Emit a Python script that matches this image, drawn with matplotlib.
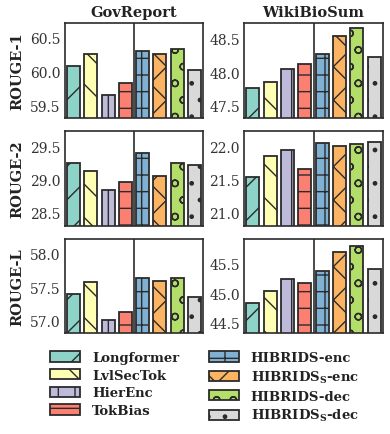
import matplotlib
matplotlib.use("Agg")
import matplotlib.pyplot as plt
from matplotlib.patches import Patch

plt.rcParams['font.family'] = ['DejaVu Serif']
plt.rcParams['mathtext.fontset'] = 'dejavuserif'
plt.rcParams['hatch.linewidth'] = 1.0
plt.rcParams['hatch.color'] = '#2b2b2b'

methods = ['Longformer', 'LvlSecTok', 'HierEnc', 'TokBias',
           'HIBRIDS-enc', r'HIBRIDS$_{\mathbf{S}}$-enc', 'HIBRIDS-dec', r'HIBRIDS$_{\mathbf{S}}$-dec']
colors = ['#8dd3c7', '#ffffb3', '#bebada', '#fb8072', '#80b1d3', '#fdb462', '#b3de69', '#d9d9d9']
hatches = ['/', '\\', '|', '-', '+', 'x', 'o', '.']

datasets = ['GovReport', 'WikiBioSum']
metrics = ['ROUGE-1', 'ROUGE-2', 'ROUGE-L']

gov_r1 = [60.09, 60.26, 59.66, 59.83, 60.31, 60.27, 60.33, 60.03]
gov_r2 = [29.25, 29.12, 28.83, 28.95, 29.40, 29.05, 29.25, 29.22]
gov_rl = [57.40, 57.57, 57.01, 57.13, 57.64, 57.59, 57.64, 57.35]
wiki_r1 = [47.77, 47.86, 48.04, 48.12, 48.27, 48.54, 48.65, 48.23]
wiki_r2 = [21.53, 21.85, 21.94, 21.66, 22.05, 22.00, 22.03, 22.06]
wiki_rl = [44.84, 45.03, 45.24, 45.17, 45.37, 45.69, 45.80, 45.41]

gov_ticks = [[59.5, 60.0, 60.5], [28.5, 29.0, 29.5], [57.0, 57.5, 58.0]]
wiki_ticks = [[47.5, 48.0, 48.5], [21.0, 21.5, 22.0], [44.5, 45.0, 45.5]]
gov_lims = [(59.32, 60.72), (28.29, 29.73), (56.82, 58.21)]
wiki_lims = [(47.32, 48.73), (20.79, 22.23), (44.33, 45.91)]

values = {('GovReport', 0): gov_r1, ('GovReport', 1): gov_r2, ('GovReport', 2): gov_rl,
          ('WikiBioSum', 0): wiki_r1, ('WikiBioSum', 1): wiki_r2, ('WikiBioSum', 2): wiki_rl}

W, H = 390, 435
fig = plt.figure(figsize=(W / 100, H / 100), dpi=100)

cols_px = [(65, 203), (244, 383)]
rows_px = [(24, 119), (132, 227), (240, 334)]
edge = '#2b2b2b'

for ci, ds in enumerate(datasets):
    for ri in range(3):
        x0, x1 = cols_px[ci]
        y0, y1 = rows_px[ri]
        ax = fig.add_axes([x0 / W, 1 - y1 / H, (x1 - x0) / W, (y1 - y0) / H])
        vals = values[(ds, ri)]
        lims = gov_lims[ri] if ci == 0 else wiki_lims[ri]
        ticks = gov_ticks[ri] if ci == 0 else wiki_ticks[ri]
        base = lims[0] - 1
        for i, v in enumerate(vals):
            ax.bar(i, v - base, bottom=base, width=0.75, color=colors[i],
                   hatch=hatches[i], edgecolor=edge, linewidth=1.3, zorder=2)
        ax.axvline(3.5, color=edge, linewidth=1.2, zorder=3)
        ax.set_xlim(-0.5, 7.5)
        ax.set_ylim(*lims)
        ax.set_yticks(ticks)
        ax.set_yticklabels([f'{t:.1f}' for t in ticks], fontsize=10, color='#333333')
        ax.set_xticks([])
        ax.tick_params(axis='y', length=0, pad=3)
        for s in ax.spines.values():
            s.set_color(edge)
            s.set_linewidth(1.2)
        if ri == 0:
            ax.set_title(ds, fontsize=10.5, fontweight='bold', pad=5, color='#222222')
        if ci == 0:
            ax.set_ylabel(metrics[ri], fontsize=10.5, fontweight='bold', color='#222222', labelpad=4)

handles = [Patch(facecolor=colors[i], hatch=hatches[i], edgecolor=edge, linewidth=1.3)
           for i in range(len(methods))]
leg = fig.legend(handles, methods, ncol=2, loc='upper left',
                 bbox_to_anchor=(50 / W, 1 - 352 / H), frameon=False,
                 prop={'weight': 'bold', 'size': 9.5}, borderpad=0, borderaxespad=0,
                 handlelength=2.3, handleheight=0.85, handletextpad=0.9,
                 columnspacing=2.2, labelspacing=0.36)
for t in leg.get_texts():
    t.set_color('#222222')

fig.savefig('out.png', dpi=100)
